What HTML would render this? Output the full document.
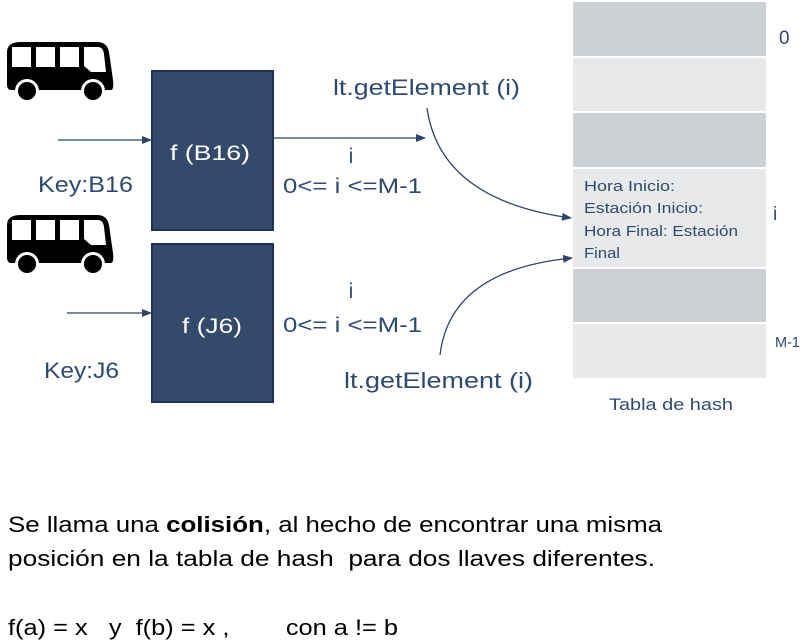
<!DOCTYPE html>
<html><head><meta charset="utf-8"><style>
body{margin:0;background:#fff;}
svg{display:block;}
text{font-family:"Liberation Sans",sans-serif;}
</style></head><body>
<svg width="810" height="641" viewBox="0 0 810 641" xmlns="http://www.w3.org/2000/svg">
<defs>
<marker id="a" markerWidth="10" markerHeight="8" refX="9" refY="4" orient="auto" markerUnits="userSpaceOnUse">
<path d="M0,0 L10,4 L0,8 Z" fill="#2f4468"/></marker>
<g id="bus">
<path d="M14,0 H90 Q100,0 102,10 L106,38 Q107,48 104,48 H4 Q0,48 0,42 V10 Q0,0 14,0 Z" fill="#000"/>
<rect x="5" y="5" width="19" height="20" fill="#fff"/>
<rect x="29" y="5" width="19" height="20" fill="#fff"/>
<rect x="53" y="5" width="19" height="20" fill="#fff"/>
<path d="M77,5 H91 Q96,5 97,12 L99,30 H84 L77,24 Z" fill="#fff"/>
<circle cx="20" cy="49" r="12" fill="#fff"/><circle cx="20" cy="49" r="9" fill="#000"/>
<circle cx="86" cy="49" r="12" fill="#fff"/><circle cx="86" cy="49" r="9" fill="#000"/>
</g>
</defs>
<use href="#bus" x="7" y="42"/>
<use href="#bus" x="7" y="215"/>
<rect x="152" y="71" width="121" height="159" fill="#344a6b" stroke="#1f3050" stroke-width="2"/>
<rect x="152" y="244" width="121" height="158" fill="#344a6b" stroke="#1f3050" stroke-width="2"/>
<text x="170" y="160" fill="#fff" font-size="21" textLength="80" lengthAdjust="spacingAndGlyphs">f (B16)</text>
<text x="182" y="333" fill="#fff" font-size="21" textLength="60" lengthAdjust="spacingAndGlyphs">f (J6)</text>
<line x1="58" y1="140" x2="151" y2="140" stroke="#2f4468" stroke-width="1.3" marker-end="url(#a)"/>
<line x1="67" y1="313" x2="151" y2="313" stroke="#2f4468" stroke-width="1.3" marker-end="url(#a)"/>
<text x="38" y="192" fill="#2e4a6e" font-size="22" textLength="95" lengthAdjust="spacingAndGlyphs">Key:B16</text>
<text x="44" y="378" fill="#2e4a6e" font-size="22" textLength="75" lengthAdjust="spacingAndGlyphs">Key:J6</text>
<line x1="273" y1="138" x2="425" y2="138" stroke="#2f4468" stroke-width="1.3" marker-end="url(#a)"/>
<text x="351" y="163" fill="#2e4a6e" font-size="21" text-anchor="middle">i</text>
<text x="283" y="193" fill="#2e4a6e" font-size="21" textLength="139" lengthAdjust="spacingAndGlyphs">0&lt;= i &lt;=M-1</text>
<text x="351" y="298" fill="#2e4a6e" font-size="21" text-anchor="middle">i</text>
<text x="283" y="332" fill="#2e4a6e" font-size="21" textLength="139" lengthAdjust="spacingAndGlyphs">0&lt;= i &lt;=M-1</text>
<text x="333" y="95" fill="#2e4a6e" font-size="22" textLength="187" lengthAdjust="spacingAndGlyphs">lt.getElement (i)</text>
<text x="344" y="388" fill="#2e4a6e" font-size="22" textLength="189" lengthAdjust="spacingAndGlyphs">lt.getElement (i)</text>
<path d="M427,108 Q440,200 571,218" fill="none" stroke="#2f4468" stroke-width="1.3" marker-end="url(#a)"/>
<path d="M440,355 Q450,270 572,258" fill="none" stroke="#2f4468" stroke-width="1.3" marker-end="url(#a)"/>
<rect x="573" y="2" width="193" height="54" fill="#cdd0d5"/>
<rect x="573" y="58" width="193" height="53" fill="#e8e9eb"/>
<rect x="573" y="113" width="193" height="54" fill="#cdd0d5"/>
<rect x="573" y="169" width="193" height="98" fill="#e8e9eb"/>
<rect x="573" y="269" width="193" height="53" fill="#cdd0d5"/>
<rect x="573" y="324" width="193" height="54" fill="#e8e9eb"/>
<g fill="#2e4a6e" font-size="14.5">
<text x="584" y="191" textLength="91" lengthAdjust="spacingAndGlyphs">Hora Inicio:</text>
<text x="584" y="213" textLength="119" lengthAdjust="spacingAndGlyphs">Estación Inicio:</text>
<text x="584" y="236" textLength="154" lengthAdjust="spacingAndGlyphs">Hora Final: Estación</text>
<text x="584" y="258" textLength="36" lengthAdjust="spacingAndGlyphs">Final</text>
</g>
<text x="779" y="44" fill="#2e4a6e" font-size="19">0</text>
<text x="773" y="220" fill="#2e4a6e" font-size="19">i</text>
<text x="775" y="347" fill="#2e4a6e" font-size="14.5">M-1</text>
<text x="609" y="410" fill="#2e4a6e" font-size="17" textLength="124" lengthAdjust="spacingAndGlyphs">Tabla de hash</text>
<g fill="#000" font-size="22">
<text x="8" y="532" textLength="654" lengthAdjust="spacingAndGlyphs">Se llama una <tspan font-weight="bold">colisión</tspan>, al hecho de encontrar una misma</text>
<text x="8" y="566" textLength="647" lengthAdjust="spacingAndGlyphs" xml:space="preserve">posición en la tabla de hash  para dos llaves diferentes.</text>
<text x="8" y="635" textLength="390" lengthAdjust="spacingAndGlyphs" xml:space="preserve">f(a) = x   y  f(b) = x ,        con a != b</text>
</g>
</svg>
</body></html>
